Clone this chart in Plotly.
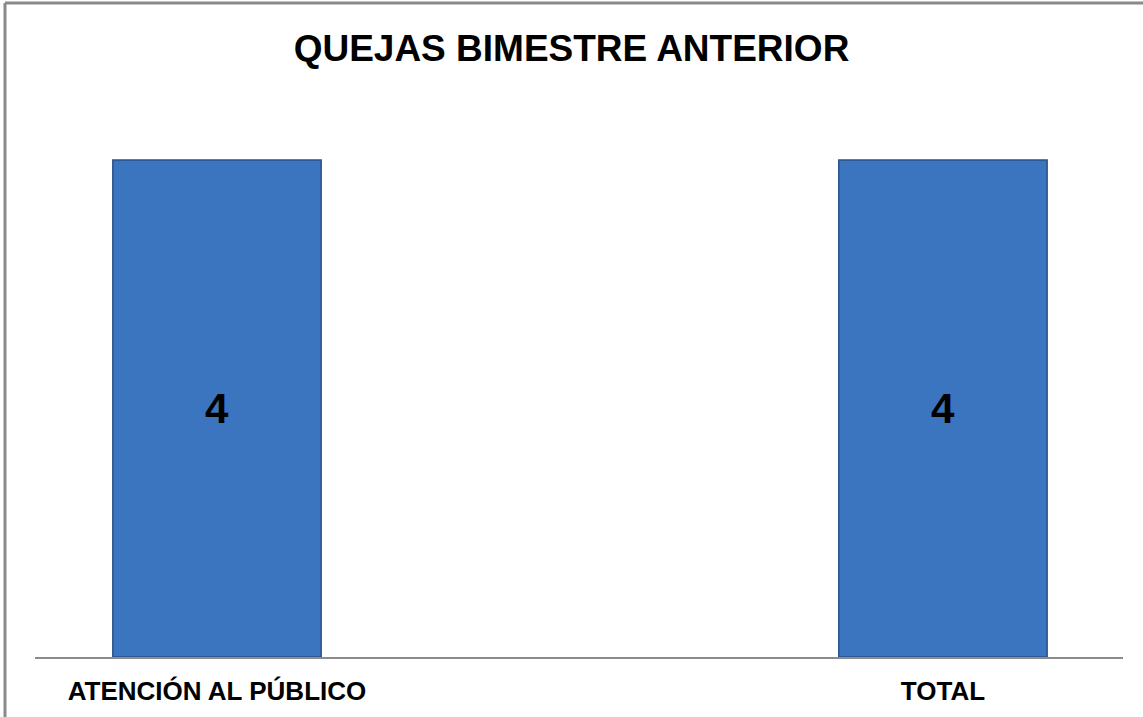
import plotly.graph_objects as go

categories = ["ATENCIÓN AL PÚBLICO", "TOTAL"]
values = [4, 4]
title_text = "QUEJAS BIMESTRE ANTERIOR"

W, H = 1143, 717
ml, mr, mt, mb = 35, 20, 100, 60
plot_w = W - ml - mr
plot_h = H - mt - mb

fig = go.Figure()
fig.add_trace(go.Bar(
    x=categories,
    y=values,
    text=[str(v) for v in values],
    textposition="inside",
    insidetextanchor="middle",
    textangle=0,
    textfont=dict(family="Liberation Sans, Arial, sans-serif", size=42, color="black", weight="bold"),
    marker=dict(color="#3b74bf", line=dict(color="#2a5289", width=1.5)),
    width=0.287,
    hoverinfo="skip",
))

# outer chart border (top and left visible)
bx = (5 - ml) / plot_w
by = 1 + (mt - 3) / plot_h
fig.add_shape(type="line", xref="paper", yref="paper", x0=bx, x1=(W - ml) / plot_w + 0.01, y0=by, y1=by,
              line=dict(color="#8a8a8a", width=3))
fig.add_shape(type="line", xref="paper", yref="paper", x0=bx, x1=bx, y0=by, y1=-(mb + 5) / plot_h,
              line=dict(color="#8a8a8a", width=3))

fig.update_layout(
    width=W, height=H,
    margin=dict(l=ml, r=mr, t=mt, b=mb),
    paper_bgcolor="white",
    plot_bgcolor="white",
    showlegend=False,
    title=dict(text=title_text, x=0.5, xanchor="center", y=1 - 48 / H, yanchor="middle",
               font=dict(family="Liberation Sans, Arial, sans-serif", size=37, color="black", weight="bold")),
    xaxis=dict(
        type="category",
        range=[-0.2507, 1.248],
        showline=True, linecolor="#8c8c8c", linewidth=2,
        showgrid=False, zeroline=False, ticks="",
        tickfont=dict(family="Liberation Sans, Arial, sans-serif", size=26, color="black", weight="bold"),
        ticklabelstandoff=10,
    ),
    yaxis=dict(range=[0, 4 * plot_h / 497], visible=False, showgrid=False, zeroline=False),
)

fig.write_html("out.html", config={"displayModeBar": False},
               post_script="document.body.style.margin='0';document.body.style.overflow='hidden';")
